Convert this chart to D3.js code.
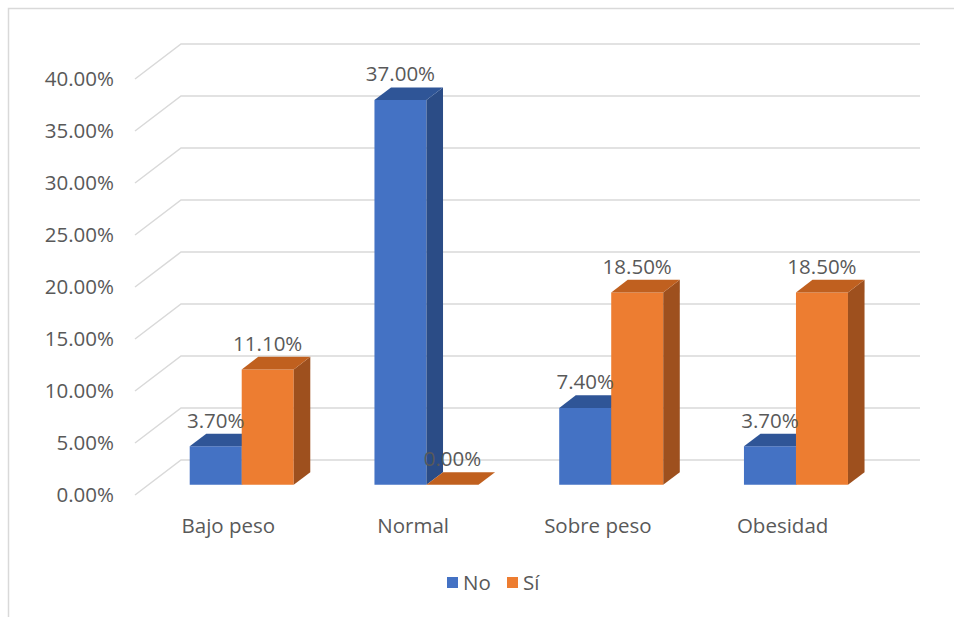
<!DOCTYPE html>
<html>
<head>
<meta charset="utf-8">
<script src="https://cdn.jsdelivr.net/npm/d3@7"></script>
<style>
  html, body { margin: 0; padding: 0; background: #fff; }
  svg { display: block; }
  text { font-family: "Open Sans", "Noto Sans", sans-serif; fill: #595959; }
</style>
</head>
<body>
<svg id="chart" width="954" height="617"></svg>
<script>
// Chart data
const categories = ["Bajo peso", "Normal", "Sobre peso", "Obesidad"];
const seriesNames = ["No", "Sí"];
const valuesNo = [3.7, 37.0, 7.4, 3.7];
const valuesSi = [11.1, 0.0, 18.5, 18.5];
const yTicks = [0, 5, 10, 15, 20, 25, 30, 35, 40];

const colors = {
  No: { front: "#4472C4", top: "#2F5597", side: "#2B4C86" },
  "Sí": { front: "#ED7D31", top: "#C0601F", side: "#9E501E" }
};

const svg = d3.select("#chart");
const W = 954, H = 617;
const fontSize = 20.5;

// Outer frame (top and left edges)
svg.append("path")
  .attr("d", `M8.5,${H}L8.5,8.5L${W},8.5`)
  .attr("fill", "none").attr("stroke", "#d9d9d9").attr("stroke-width", 1.5);

// Oblique 3D projection: depth 0 is the front plane, depth 1 the back wall
const baseY = 495;           // value 0 on the front plane
const depthDX = 46, depthDY = 35;
const yScale = d3.scaleLinear().domain([0, 40]).range([0, 416]);
const xLeft = 135, xRight = 874;
const gap = 0.437;
const x0 = d3.scaleBand().domain(categories).range([xLeft + 1, xRight + 1])
  .paddingInner(gap).paddingOuter(gap / 2);
const x1 = d3.scaleBand().domain(seriesNames).range([0, x0.bandwidth()]);
const barD0 = 0.29, barD1 = 0.65;

function P(x, v, d) {
  return [x + depthDX * d, baseY - yScale(v) - depthDY * d];
}
const line = pts => "M" + pts.map(p => p.join(",")).join("L") + "Z";

// Walls: gridlines on back wall and side wall
const grid = svg.append("g").attr("stroke", "#d9d9d9").attr("stroke-width", 1.5).attr("fill", "none");
yTicks.forEach(t => {
  const a = P(xLeft, t, 0), b = P(xLeft, t, 1), c = P(xRight, t, 1);
  grid.append("path").attr("d", `M${a}L${b}L${c}`);
});

// Y axis labels
svg.append("g").selectAll("text").data(yTicks).join("text")
  .attr("x", 114)
  .attr("y", d => P(xLeft, d, 0)[1])
  .attr("dy", "0.35em")
  .attr("text-anchor", "end")
  .attr("font-size", fontSize)
  .text(d => d.toFixed(2) + "%");

// Bars
const bars = [];
categories.forEach((c, i) => {
  [["No", valuesNo[i]], ["Sí", valuesSi[i]]].forEach(([s, v]) => {
    bars.push({ cat: c, series: s, value: v, x: x0(c) + x1(s), w: x1.bandwidth() });
  });
});

const gBars = svg.append("g");
bars.forEach(b => {
  const col = colors[b.series];
  const xa = b.x, xb = b.x + b.w, v = b.value;
  if (v > 0) {
    gBars.append("path").attr("fill", col.front)
      .attr("d", line([P(xa, 0, barD0), P(xb, 0, barD0), P(xb, v, barD0), P(xa, v, barD0)]));
    gBars.append("path").attr("fill", col.side)
      .attr("d", line([P(xb, 0, barD0), P(xb, 0, barD1), P(xb, v, barD1), P(xb, v, barD0)]));
  }
  gBars.append("path").attr("fill", col.top)
    .attr("d", line([P(xa, v, barD0), P(xb, v, barD0), P(xb, v, barD1), P(xa, v, barD1)]));
});

// Data labels
svg.append("g").selectAll("text").data(bars).join("text")
  .attr("x", d => P(d.x + d.w / 2, d.value, barD0)[0])
  .attr("y", d => P(d.x + d.w / 2, d.value, barD0)[1] - 26)
  .attr("dy", "0.35em")
  .attr("text-anchor", "middle")
  .attr("font-size", fontSize)
  .text(d => d.value.toFixed(2) + "%");

// Category labels
svg.append("g").selectAll("text").data(categories).join("text")
  .attr("x", d => x0(d) + x0.bandwidth() / 2)
  .attr("y", 526)
  .attr("dy", "0.35em")
  .attr("text-anchor", "middle")
  .attr("font-size", fontSize)
  .text(d => d);

// Legend
const legend = svg.append("g");
const legendItems = [{ name: "No", x: 447 }, { name: "Sí", x: 507 }];
legendItems.forEach(it => {
  legend.append("rect").attr("x", it.x).attr("y", 577).attr("width", 11).attr("height", 11)
    .attr("fill", colors[it.name].front);
  legend.append("text").attr("x", it.x + 16).attr("y", 583).attr("dy", "0.35em")
    .attr("font-size", fontSize).text(it.name);
});
</script>
</body>
</html>
